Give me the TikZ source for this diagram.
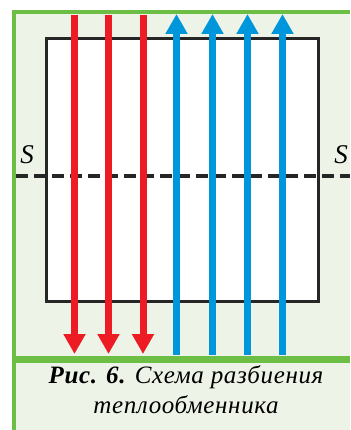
\documentclass[tikz,border=0pt]{standalone}
\usepackage{fontspec}
\setmainfont{Liberation Serif}
\newfontfamily\capfont[LetterSpace=2.5]{Liberation Serif}
\usetikzlibrary{arrows.meta}
\definecolor{frameGreen}{RGB}{109,190,69}
\definecolor{paleGreen}{RGB}{238,243,232}
\definecolor{hotRed}{RGB}{237,28,36}
\definecolor{coldBlue}{RGB}{0,150,219}

\begin{document}
\begin{tikzpicture}[x=1pt, y=-1pt,
    flow/.style={line width=7pt, -{Triangle[width=21pt,length=20pt]}},
    sLabel/.style={font=\fontsize{27}{29}\selectfont\itshape, inner sep=0pt},
    capLine/.style={font=\capfont\fontsize{25}{27}\selectfont\itshape, anchor=base, inner sep=0pt}]
    \useasboundingbox (0,0) rectangle (350,430);
    % Fondo
    \fill[paleGreen] (14,12) rectangle (350,430);

    % Teploobmennik (caja)
    \draw[line width=3pt, black!85, fill=white] (46,39) rectangle (318,301);

    % Seccion S--S
    \coordinate (secLeft) at (16,176);
    \coordinate (secRight) at (350,176);
    \draw[line width=3.5pt, black!85, dash pattern=on 12pt off 6pt] (secLeft) -- (secRight);
    \node[sLabel] (sLeft) at (27,155) {S};
    \node[sLabel] (sRight) at (341,155) {S};

    % Flujo caliente (hacia abajo)
    \foreach \i/\x in {1/74.5, 2/108.5, 3/143}{
        \coordinate (hotIn\i) at (\x,15);
        \coordinate (hotOut\i) at (\x,354);
        \draw[flow, hotRed] (hotIn\i) -- (hotOut\i);
    }
    % Flujo frio (hacia arriba)
    \foreach \i/\x in {1/176.5, 2/212.5, 3/247.5, 4/282.5}{
        \coordinate (coldIn\i) at (\x,355);
        \coordinate (coldOut\i) at (\x,14);
        \draw[flow, coldBlue] (coldIn\i) -- (coldOut\i);
    }

    % Marco verde
    \draw[frameGreen, line width=4pt] (14,430) -- (14,12.5) -- (350,12.5);
    \draw[frameGreen, line width=7pt] (12,359) -- (350,359);

    % Pie de figura
    \node[capLine] (capTop) at (186,383) {\textbf{Рис. 6.} Схема разбиения};
    \node[capLine] (capBottom) at (186,413) {теплообменника};
\end{tikzpicture}
\end{document}
